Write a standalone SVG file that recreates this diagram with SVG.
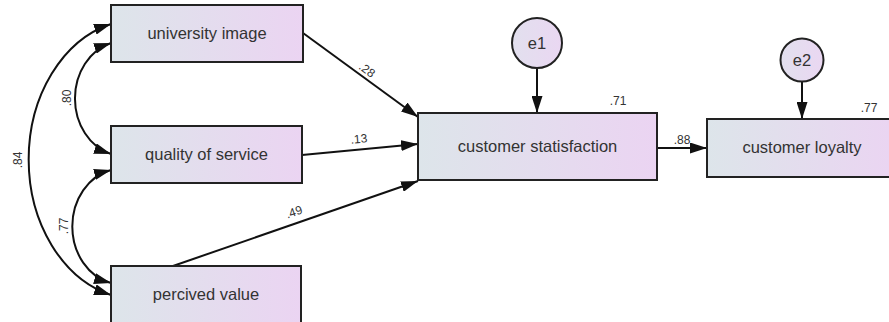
<svg xmlns="http://www.w3.org/2000/svg" width="889" height="322" viewBox="0 0 889 322">
  <style>
    .box { fill: url(#boxFill); stroke: #222; stroke-width: 2; }
    .err { fill: url(#errFill); stroke: #222; stroke-width: 2; }
    .name { font-family: "Liberation Sans", Arial, sans-serif; font-size: 16.5px; fill: #333; text-anchor: middle; }
    .coef { font-family: "Liberation Sans", Arial, sans-serif; font-size: 12px; fill: #333; text-anchor: middle; }
    .path { fill: none; stroke: #111; stroke-width: 2; }
  </style>
  <defs>
    <linearGradient id="boxFill" x1="0" y1="0" x2="1" y2="0">
      <stop offset="0" stop-color="#dde5ea"/>
      <stop offset="1" stop-color="#ebd4f2"/>
    </linearGradient>
    <linearGradient id="errFill" x1="0" y1="0" x2="1" y2="0">
      <stop offset="0" stop-color="#e2e0ee"/>
      <stop offset="1" stop-color="#ead7f2"/>
    </linearGradient>
    <marker id="head" viewBox="0 0 17 11" refX="17" refY="5.5" markerWidth="17" markerHeight="11" markerUnits="userSpaceOnUse" orient="auto-start-reverse">
      <path d="M0,0 L17,5.5 L0,11 z" fill="#111"/>
    </marker>
  </defs>

  <!-- connectors -->
  <g id="connectors">
    <!-- covariances -->
    <path class="path" d="M111,43 A50 57.8 0 0 0 111,154" marker-start="url(#head)" marker-end="url(#head)"/>
    <path class="path" d="M111,170 A50 58 0 0 0 111,283" marker-start="url(#head)" marker-end="url(#head)"/>
    <path class="path" d="M111,24 A110 140 0 0 0 111,295" marker-start="url(#head)" marker-end="url(#head)"/>
    <!-- regression paths -->
    <line class="path" x1="303" y1="33" x2="418" y2="117" marker-end="url(#head)"/>
    <line class="path" x1="302" y1="155" x2="418" y2="144" marker-end="url(#head)"/>
    <line class="path" x1="173" y1="266" x2="418" y2="181" marker-end="url(#head)"/>
    <line class="path" x1="657" y1="148" x2="707" y2="148" marker-end="url(#head)"/>
    <line class="path" x1="537" y1="68" x2="537" y2="113" marker-end="url(#head)"/>
    <line class="path" x1="802" y1="82" x2="802" y2="119" marker-end="url(#head)"/>
  </g>

  <!-- coefficients -->
  <g id="estimates">
    <text class="coef" transform="translate(67,98) rotate(-90)" y="4">.80</text>
    <text class="coef" transform="translate(18,160) rotate(-90)" y="4">.84</text>
    <text class="coef" transform="translate(64,226) rotate(-90)" y="4">.77</text>
    <text class="coef" transform="translate(367,70) rotate(36)" y="4">.28</text>
    <text class="coef" transform="translate(359,139) rotate(-5)" y="4">.13</text>
    <text class="coef" transform="translate(294,212) rotate(-19)" y="4">.49</text>
    <text class="coef" x="618" y="105">.71</text>
    <text class="coef" x="682" y="144">.88</text>
    <text class="coef" x="869" y="112">.77</text>
  </g>

  <g id="university-image">
    <rect class="box" x="111" y="5" width="192" height="57"/>
    <text class="name" x="207" y="39">university image</text>
  </g>
  <g id="quality-of-service">
    <rect class="box" x="111" y="126" width="191" height="57"/>
    <text class="name" x="206.5" y="160">quality of service</text>
  </g>
  <g id="percived-value">
    <rect class="box" x="111" y="266" width="190" height="58"/>
    <text class="name" x="206" y="300">percived value</text>
  </g>
  <g id="customer-satisfaction">
    <rect class="box" x="418" y="113" width="239" height="67"/>
    <text class="name" x="537.5" y="152">customer statisfaction</text>
  </g>
  <g id="customer-loyalty">
    <rect class="box" x="707" y="119" width="192" height="58"/>
    <text class="name" x="802" y="153">customer loyalty</text>
  </g>
  <g id="e1">
    <circle class="err" cx="537" cy="43" r="25"/>
    <text class="name" x="537" y="49">e1</text>
  </g>
  <g id="e2">
    <circle class="err" cx="802" cy="60" r="21.5"/>
    <text class="name" x="802" y="66">e2</text>
  </g>
</svg>
